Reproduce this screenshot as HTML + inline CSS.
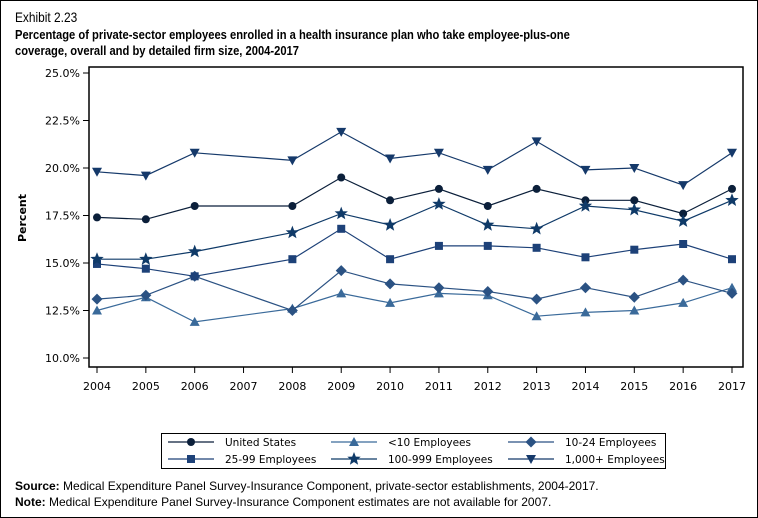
<!DOCTYPE html>
<html><head><meta charset="utf-8"><style>
body{margin:0;background:#fff}
#wrap{position:relative;width:756px;height:516px;border:1px solid #000;overflow:hidden;font-family:"Liberation Sans",sans-serif}
.t{position:absolute;left:14px;font-weight:bold;font-size:13px;color:#000;font-family:"Liberation Sans Narrow","Liberation Sans",sans-serif;transform-origin:0 0}
.f{position:absolute;left:14px;font-size:12px;color:#000}
</style></head><body>
<div id="wrap">
<div class="t" style="top:8px;font-size:14px;font-weight:normal;transform:scaleX(.85)">Exhibit 2.23</div>
<div class="t" style="top:26px;transform:scaleX(.86);white-space:nowrap;line-height:16px">Percentage of private-sector employees enrolled in a health insurance plan who take employee-plus-one<br>coverage, overall and by detailed firm size, 2004-2017</div>
<svg id="chart" width="756" height="516" style="position:absolute;left:0;top:0"></svg>
<div class="f" style="top:478px"><b>Source:</b> Medical Expenditure Panel Survey-Insurance Component, private-sector establishments, 2004-2017.</div>
<div class="f" style="top:494px"><b>Note:</b> Medical Expenditure Panel Survey-Insurance Component estimates are not available for 2007.</div>
</div>
<script>
const years=[2004,2005,2006,2007,2008,2009,2010,2011,2012,2013,2014,2015,2016,2017];
const dataYears=[2004,2005,2006,2008,2009,2010,2011,2012,2013,2014,2015,2016,2017];
const usVals=[17.4,17.3,18.0,18.0,19.5,18.3,18.9,18.0,18.9,18.3,18.3,17.6,18.9];
const lt10Vals=[12.5,13.2,11.9,12.6,13.4,12.9,13.4,13.3,12.2,12.4,12.5,12.9,13.7];
const e1024Vals=[13.1,13.3,14.3,12.5,14.6,13.9,13.7,13.5,13.1,13.7,13.2,14.1,13.4];
const e2599Vals=[14.95,14.7,14.3,15.2,16.8,15.2,15.9,15.9,15.8,15.3,15.7,16.0,15.2];
const e100Vals=[15.2,15.2,15.6,16.6,17.6,17.0,18.1,17.0,16.8,18.0,17.8,17.2,18.3];
const e1000Vals=[19.8,19.6,20.8,20.4,21.9,20.5,20.8,19.9,21.4,19.9,20.0,19.1,20.8];
const yTicks=[10,12.5,15,17.5,20,22.5,25];
const series=[
 {name:"United States",vals:usVals,color:"#0b1f3a",m:"circle",id:"us"},
 {name:"<10 Employees",vals:lt10Vals,color:"#3a6a9a",m:"tri",id:"lt10"},
 {name:"10-24 Employees",vals:e1024Vals,color:"#2b5283",m:"diamond",id:"10-24"},
 {name:"25-99 Employees",vals:e2599Vals,color:"#1d4178",m:"square",id:"25-99"},
 {name:"100-999 Employees",vals:e100Vals,color:"#0f3a68",m:"star",id:"100-999"},
 {name:"1,000+ Employees",vals:e1000Vals,color:"#15396a",m:"tridown",id:"1000plus"}];
const svg=document.getElementById('chart');const NS='http://www.w3.org/2000/svg';
function el(t,a,p){const e=document.createElementNS(NS,t);for(const k in a)e.setAttribute(k,a[k]);(p||svg).appendChild(e);return e;}
const L=88,R=742,T=66,B=366;
const xS=y=>96+years.indexOf(y)*(731-96)/13;
const yS=v=>357-(v-10)*19;
let e=el('rect',{x:L,y:T,width:R-L,height:B-T,fill:'none',stroke:'#000','stroke-width':1.5});


yTicks.forEach(v=>{const y=yS(v);el('line',{x1:L-6,x2:L,y1:y,y2:y,stroke:'#000'});
 let t=el('text',{x:L-9,y:y+4,'text-anchor':'end','font-size':11,'font-family':'DejaVu Sans,sans-serif'});t.textContent=v.toFixed(1)+'%';
 
 });
years.forEach(yr=>{const x=xS(yr);el('line',{x1:x,x2:x,y1:B,y2:B+6,stroke:'#000'});
 let t=el('text',{x:x,y:B+23,'text-anchor':'middle','font-size':11,'font-family':'DejaVu Sans,sans-serif'});t.textContent=yr;
 
 });
let yt=el('text',{x:0,y:0,transform:'translate(25,217) rotate(-90)','text-anchor':'middle','font-size':11,'font-weight':'bold','font-family':'DejaVu Sans,sans-serif'});yt.textContent='Percent';


function marker(m,x,y,c,g){
 if(m=='circle')return el('circle',{cx:x,cy:y,r:4,fill:c},g);
 if(m=='square')return el('rect',{x:x-4,y:y-4,width:8,height:8,fill:c},g);
 if(m=='diamond')return el('polygon',{points:`${x},${y-5.5} ${x+5.5},${y} ${x},${y+5.5} ${x-5.5},${y}`,fill:c},g);
 if(m=='tri')return el('polygon',{points:`${x},${y-5} ${x+5},${y+4} ${x-5},${y+4}`,fill:c},g);
 if(m=='tridown')return el('polygon',{points:`${x-5},${y-4} ${x+5},${y-4} ${x},${y+5}`,fill:c},g);
 let p=[];for(let i=0;i<10;i++){const r=i%2?3:7,a=-Math.PI/2+i*Math.PI/5;p.push((x+r*Math.cos(a)).toFixed(1)+','+(y+r*Math.sin(a)).toFixed(1));}
 return el('polygon',{points:p.join(' '),fill:c},g);}
series.forEach(s=>{const g=el('g',{});
 
 
 const pts=s.vals.map((v,i)=>xS(dataYears[i])+','+yS(v)).join(' ');
 el('polyline',{points:pts,fill:'none',stroke:s.color,'stroke-width':1.2},g);
 s.vals.forEach((v,i)=>{const mk=marker(s.m,xS(dataYears[i]),yS(v),s.color,g);
  
  });});
const lg=el('g',{});


el('rect',{x:160.5,y:432.5,width:504,height:35,fill:'#fff',stroke:'#000'},lg);
const colX=[167,330,507];
series.forEach((s,i)=>{const col=i%3,row=Math.floor(i/3);const x0=colX[col],y0=441+row*17;
 const g=el('g',{},lg);
 
 
 el('line',{x1:x0,x2:x0+46,y1:y0,y2:y0,stroke:s.color,'stroke-width':1.2},g);
 marker(s.m,x0+23,y0,s.color,g);
 const t=el('text',{x:x0+57,y:y0+4,'font-size':10.5,'font-family':'DejaVu Sans,sans-serif'},g);t.textContent=s.name;});
</script>
</body></html>
